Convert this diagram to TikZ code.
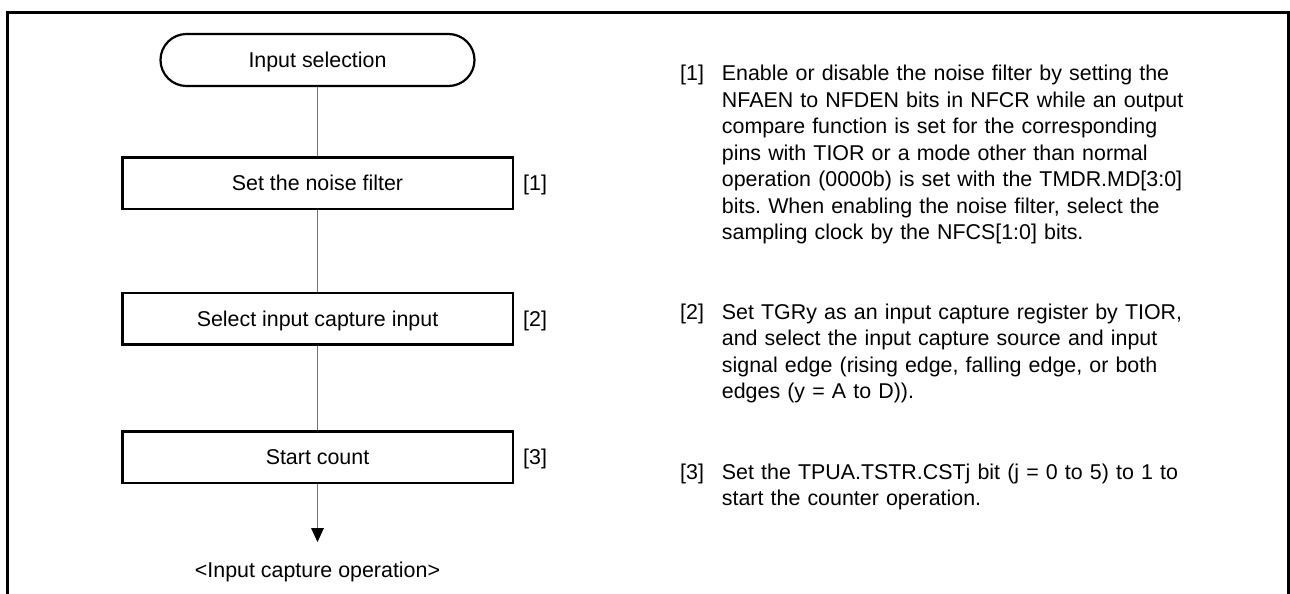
\documentclass[tikz,border=0pt]{standalone}
\usepackage{fontspec}
\setmainfont{Liberation Sans}
\usetikzlibrary{arrows.meta}
\frenchspacing
\begin{document}
\begin{tikzpicture}[x=1pt,y=-1pt,
  frame/.style={line width=2.5pt},
  term/.style={draw,line width=2.2pt,rounded corners=26pt,minimum width=314pt,minimum height=52pt,inner sep=0pt},
  stepbox/.style={draw,line width=2.5pt,minimum width=390.5pt,minimum height=51.5pt,inner sep=0pt},
  ftext/.style={font=\fontsize{21.4pt}{24pt}\selectfont,text height=15.4pt,text depth=0pt},
  conn/.style={draw=black!55,line width=1pt},
  desc/.style={font=\fontsize{21.4pt}{26.5pt}\selectfont\frenchspacing,text width=560pt,align=left,inner sep=0pt,anchor=base west},
  lbl/.style={font=\fontsize{21.4pt}{26.5pt}\selectfont,inner sep=0pt,anchor=base west},
]
\useasboundingbox (0,0) rectangle (1290,594);
\draw[frame] (7.5,594) -- (7.5,12.5) -- (1288.5,12.5) -- (1288.5,594);

\node[term,ftext] (t) at (317.5,60) {Input selection};
\node[stepbox,ftext] (b1) at (317.5,183) {Set the noise filter};
\node[stepbox,ftext] (b2) at (317.5,318.5) {Select input capture input};
\node[stepbox,ftext] (b3) at (317.5,457) {Start count};
\node[ftext,anchor=west,inner sep=0pt] (n1) at (523,183) {[1]};
\node[ftext,anchor=west,inner sep=0pt] (n2) at (523,318.5) {[2]};
\node[ftext,anchor=west,inner sep=0pt] (n3) at (523,457) {[3]};
\node[ftext,inner sep=0pt] (e) at (317.5,570) {<Input capture operation>};
\coordinate (tip) at (317.5,542);

\draw[conn] (t.south) -- (b1.north);
\draw[conn] (b1.south) -- (b2.north);
\draw[conn] (b2.south) -- (b3.north);
\draw[conn,-{Triangle[length=14pt,width=12.7pt,color=black]}] (b3.south) -- (tip);

\node[lbl] (l1) at (680,80.7) {[1]};
\node[desc] (d1) at (721.7,80.7) {Enable or disable the noise filter by setting the\\
NFAEN to NFDEN bits in NFCR while an output\\
compare function is set for the corresponding\\
pins with TIOR or a mode other than normal\\
operation (0000b) is set with the TMDR.MD[3:0]\\
bits. When enabling the noise filter, select the\\
sampling clock by the NFCS[1:0] bits.};

\node[lbl] (l2) at (680,319.3) {[2]};
\node[desc] (d2) at (721.7,319.3) {Set TGRy as an input capture register by TIOR,\\
and select the input capture source and input\\
signal edge (rising edge, falling edge, or both\\
edges (y = A to D)).};

\node[lbl] (l3) at (680,479.3) {[3]};
\node[desc] (d3) at (721.7,479.3) {Set the TPUA.TSTR.CSTj bit (j = 0 to 5) to 1 to\\
start the counter operation.};
\end{tikzpicture}
\end{document}
